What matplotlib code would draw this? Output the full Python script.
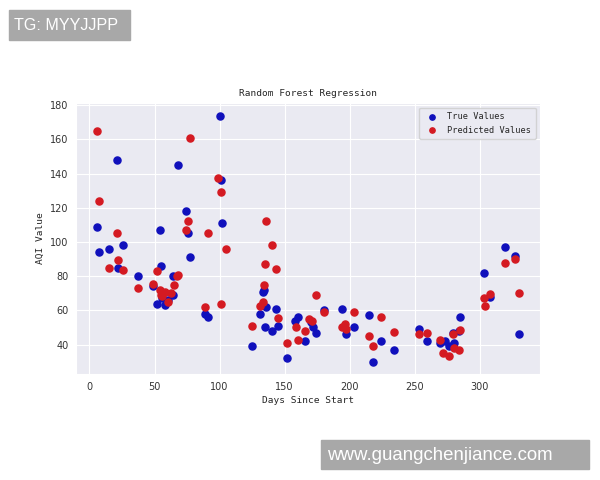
import matplotlib
matplotlib.use("Agg")
import matplotlib.pyplot as plt
import matplotlib.patches as mpatches
import seaborn as sns

# days since start / AQI
true_days = [6, 7, 15, 21, 22, 26, 37, 49, 52, 54, 55, 56, 58, 60, 64, 64, 68, 74, 76, 77,
             89, 91, 100, 101, 102,
             125, 131, 133, 134, 135, 136, 140, 143, 145, 152, 158, 160, 166, 170, 172, 174,
             180, 194, 197, 203, 215, 218, 224, 234, 253, 259, 269, 273, 276, 279, 280, 284,
             285, 303, 308, 319, 327, 330]
true_aqi = [109, 94, 96, 148, 85, 98, 80, 74, 64, 107, 86, 67, 63, 66, 80, 69, 145, 118, 105, 91,
            58, 56, 174, 136, 111,
            39, 58, 71, 72, 50, 62, 48, 61, 51, 32, 54, 56, 42, 53, 50, 47,
            60, 61, 46, 50, 57, 30, 42, 37, 49, 42, 41, 42, 39, 47, 40.6, 48,
            56, 82, 68, 97, 92, 46]

pred_days = [6, 7, 15, 21, 22, 26, 37, 49, 52, 54, 55, 56, 58, 60, 63, 65, 67, 68, 74, 76,
             77, 89, 91, 99, 101, 101, 105,
             125, 131, 133, 134, 135, 136, 140, 143, 145, 152, 159, 160, 166, 169, 171, 174,
             180, 194, 196, 197, 203, 215, 218, 224, 234, 253, 259, 269, 272, 276, 279, 280,
             284, 285, 303, 304, 308, 319, 327, 330]
pred_aqi = [165, 124, 85, 105, 89.5, 83.5, 73, 75.5, 83, 72, 69, 68.6, 71, 65, 70, 75, 80, 80.5, 107, 112.5,
            161, 62, 105, 137.5, 129, 64, 96,
            51, 62.4, 65, 75, 87, 112.5, 98, 84, 55.6, 41, 50, 42.5, 48, 55, 54, 69,
            59, 50, 52, 49, 59, 45, 39, 56, 47.4, 46, 47, 42.7, 35, 33, 46, 38,
            36.7, 48.4, 67, 62.6, 69.6, 87.5, 90, 70]

sns.set_style("darkgrid")
mono = ['DejaVu Sans Mono']

fig = plt.figure(figsize=(6, 4.8), dpi=100)
ax = fig.add_axes([0.127, 0.221, 0.773, 0.564])

ax.scatter(true_days, true_aqi, color='#1010bc', s=26, label='True Values', zorder=3)
ax.scatter(pred_days, pred_aqi, color='#d41a22', s=26, label='Predicted Values', zorder=3)

ax.set_title('Random Forest Regression', fontsize=6.8, family=mono, pad=5)
ax.set_xlabel('Days Since Start', fontsize=6.8, family=mono, labelpad=3)
ax.set_ylabel('AQI Value', fontsize=6.8, family=mono, labelpad=4)
ax.set_xticks(range(0, 301, 50))
ax.set_yticks(range(40, 181, 20))
ax.tick_params(labelsize=7, colors='#333333', pad=2)
ax.legend(loc='upper right', prop={'family': mono, 'size': 6.2}, frameon=True,
          markerscale=0.75, borderpad=0.5, labelspacing=0.55)

# overlay boxes from the picture
fig.patches.append(mpatches.Rectangle((9 / 600, 1 - 40 / 480), 121 / 600, 30 / 480,
                                      transform=fig.transFigure, color='#a8a8a8'))
fig.text(14 / 600, 1 - 25 / 480, 'TG: MYYJJPP', color='white', fontsize=11.6,
         family='Liberation Sans', va='center')
fig.patches.append(mpatches.Rectangle((321 / 600, 1 - 469 / 480), 268 / 600, 29 / 480,
                                      transform=fig.transFigure, color='#a8a8a8'))
fig.text(327 / 600, 1 - 455 / 480, 'www.guangchenjiance.com', color='white', fontsize=13.4,
         family='Liberation Sans', va='center')

fig.savefig('out.png', dpi=100)
